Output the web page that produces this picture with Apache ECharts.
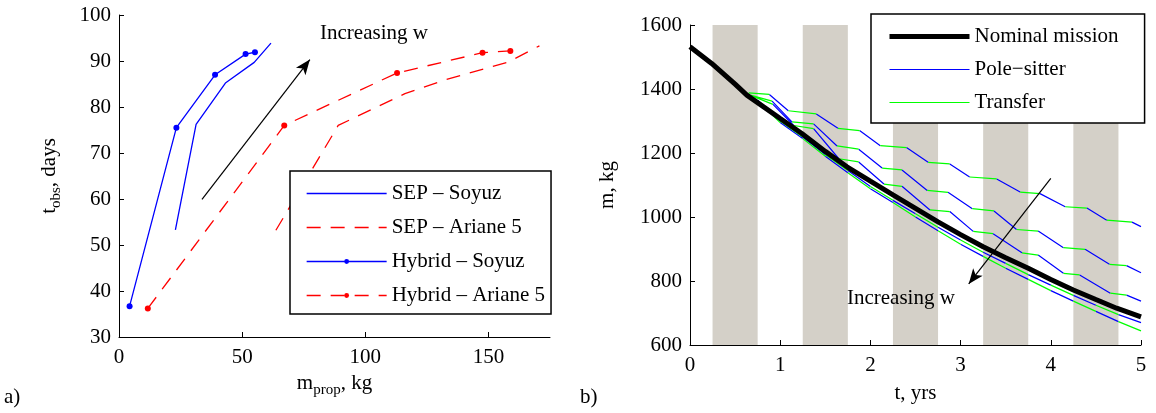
<!DOCTYPE html>
<html>
<head>
<meta charset="utf-8">
<script src="https://cdn.jsdelivr.net/npm/echarts@6/dist/echarts.min.js"></script>
<style>html,body{margin:0;padding:0;background:#fff}#c{width:1156px;height:413px}</style>
</head>
<body>
<div id="c"></div>
<script>
// ---------- Panel a) data ----------
const sepSoyuzX = [22.9, 31.3, 43.2, 54.9, 61.7];
const sepSoyuzY = [53.3, 76.2, 85.2, 89.7, 93.9];
const sepArianeX = [63.7, 89.0, 116.1, 133.0, 158.1, 170.7];
const sepArianeY = [53.2, 76.0, 82.9, 86.0, 89.8, 93.3];
const hybSoyuzX = [4.3, 23.3, 39.0, 51.4, 55.2];
const hybSoyuzY = [36.7, 75.5, 87.0, 91.5, 91.9];
const hybArianeX = [11.7, 67.1, 112.9, 147.6, 158.9];
const hybArianeY = [36.2, 76.0, 87.4, 91.8, 92.2];
const arrowA = [[33.7, 59.9], [77.5, 90.3]];
const textA = [79.6, 96.0];

// ---------- Panel b) data ----------
const nominalT = [0, 0.24, 0.5, 0.63, 1.0, 1.24, 1.5, 1.74, 2.0, 2.25, 2.5, 2.75, 3.0, 3.25, 3.5, 3.75, 4.0, 4.25, 4.5, 4.73, 5.0];
const nominalM = [1532, 1480, 1415, 1381, 1308, 1261, 1205, 1157, 1112, 1069, 1027, 985, 945, 907, 873, 840, 805, 772, 742, 715, 688];

const br1T = [0.65, 0.88, 1.09, 1.40, 1.64, 1.88, 2.11, 2.40, 2.64, 2.88, 3.10, 3.40, 3.66, 3.88, 4.16, 4.40, 4.62, 4.90, 5.0];
const br1M = [1388, 1383, 1332, 1322, 1277, 1270, 1223, 1217, 1171, 1166, 1125, 1119, 1078, 1073, 1032, 1028, 990, 984, 970];
const br2T = [0.67, 0.91, 1.13, 1.37, 1.63, 1.87, 2.13, 2.35, 2.63, 2.86, 3.13, 3.37, 3.62, 3.86, 4.14, 4.38, 4.65, 4.84, 5.0];
const br2M = [1381, 1362, 1297, 1291, 1222, 1212, 1153, 1147, 1083, 1077, 1026, 1019, 961, 956, 904, 899, 852, 848, 826];
const br3T = [0.70, 0.92, 1.15, 1.37, 1.65, 1.87, 2.15, 2.35, 2.66, 2.88, 3.14, 3.36, 3.68, 3.86, 4.14, 4.32, 4.66, 4.84, 5.0];
const br3M = [1377, 1352, 1286, 1276, 1182, 1172, 1103, 1096, 1022, 1017, 955, 948, 888, 881, 824, 819, 762, 756, 737];
const br4T = [0.75, 1.0, 1.25, 1.5, 1.75, 2.0, 2.25, 2.5, 2.75, 3.0, 3.25, 3.5, 3.75, 4.0, 4.25, 4.5, 4.75, 5.0];
const br4M = [1365, 1300, 1250, 1195, 1145, 1095, 1052, 1010, 968, 928, 890, 855, 820, 787, 755, 724, 695, 670];
const br5T = [0.75, 1.0, 1.25, 1.5, 1.75, 2.0, 2.25, 2.5, 2.75, 3.0, 3.25, 3.5, 3.75, 4.0, 4.25, 4.5, 4.75, 5.0];
const br5M = [1362, 1295, 1245, 1190, 1138, 1088, 1045, 1000, 957, 915, 877, 840, 805, 770, 737, 705, 673, 644];
// first segment colour of each branch (segments then alternate)
const branchFirst = ['g', 'g', 'g', 'b', 'g'];
const bandStarts = [0.25, 1.25, 2.25, 3.25, 4.25];
const bandEnds = [0.75, 1.75, 2.75, 3.75, 4.75];
const arrowB = [[4.0, 1121], [3.09, 791]];
const textB = [1.685, 744];

// ---------- helpers ----------
const FONT = 'Liberation Serif';
const FS = 21;
const BLUE = '#0000ff', RED = '#ff0000', GREEN = '#00ff00';
function pairs(xs, ys) { return xs.map((x, i) => [x, ys[i]]); }
const branches = [[br1T, br1M], [br2T, br2M], [br3T, br3M], [br4T, br4M], [br5T, br5M]];
function segData(key) {
  const out = [];
  branches.forEach((b, bi) => {
    const [T, M] = b;
    const first = branchFirst[bi];
    const other = first === 'g' ? 'b' : 'g';
    for (let i = 0; i < T.length - 1; i++) {
      const c = (i % 2 === 0) ? first : other;
      if (c === key) {
        out.push([T[i], M[i]], [T[i + 1], M[i + 1]], ['-', '-']);
      }
    }
  });
  return out;
}
const axisCommon = {
  axisLine: { show: true, lineStyle: { color: '#000', width: 1 } },
  axisTick: { show: true, inside: true, length: 5, lineStyle: { color: '#000' } },
  axisLabel: { color: '#000', fontFamily: FONT, fontSize: FS, formatter: v => String(v) },
  splitLine: { show: false },
  nameTextStyle: { color: '#000', fontFamily: FONT, fontSize: FS }
};
function subRich() {
  return {
    a: { fontFamily: FONT, fontSize: FS, color: '#000', lineHeight: 25, verticalAlign: 'top' },
    s: { fontFamily: FONT, fontSize: 15, color: '#000', lineHeight: 25, verticalAlign: 'bottom' }
  };
}
const textStyleBase = { fontFamily: FONT, fontSize: FS, color: '#000' };
const noDot = { color: 'rgba(0,0,0,0)', borderWidth: 0, borderColor: 'rgba(0,0,0,0)' };

const chart = echarts.init(document.getElementById('c'), null, { renderer: 'canvas' });
const option = {
  animation: false,
  backgroundColor: '#fff',
  grid: [
    { left: 119, top: 15, width: 431, height: 322 },
    { left: 690, top: 25, width: 451, height: 320 }
  ],
  xAxis: [
    Object.assign({}, axisCommon, {
      gridIndex: 0, type: 'value', min: 0, max: 175, interval: 50,
      name: '{a|m}{s|prop}{a|, kg}', nameLocation: 'middle', nameGap: 32,
      nameTextStyle: { rich: subRich() },
      axisLabel: Object.assign({}, axisCommon.axisLabel, { showMaxLabel: false, margin: 10 })
    }),
    Object.assign({}, axisCommon, {
      gridIndex: 1, type: 'value', min: 0, max: 5, interval: 1,
      name: 't, yrs', nameLocation: 'middle', nameGap: 38,
      axisLabel: Object.assign({}, axisCommon.axisLabel, { margin: 10 })
    })
  ],
  yAxis: [
    Object.assign({}, axisCommon, {
      gridIndex: 0, type: 'value', min: 30, max: 100, interval: 10,
      name: '{a|t}{s|obs}{a|, days}', nameLocation: 'middle', nameGap: 55,
      nameTextStyle: { rich: subRich() }
    }),
    Object.assign({}, axisCommon, {
      gridIndex: 1, type: 'value', min: 600, max: 1600, interval: 200,
      name: 'm, kg', nameLocation: 'middle', nameGap: 72
    })
  ],
  legend: [
    {
      left: 290, top: 171, orient: 'vertical',
      itemWidth: 80, itemHeight: 6, itemGap: 13,
      padding: [12, 6, 8, 16],
      borderColor: '#000', borderWidth: 1.5, backgroundColor: '#fff',
      textStyle: textStyleBase,
      data: [
        { name: 'SEP – Soyuz', itemStyle: noDot, lineStyle: { width: 1.3 } },
        { name: 'SEP – Ariane 5', itemStyle: noDot, lineStyle: { width: 1.3 } },
        { name: 'Hybrid – Soyuz', lineStyle: { width: 1.3 } },
        { name: 'Hybrid – Ariane 5', lineStyle: { width: 1.3 } }
      ]
    },
    {
      left: 871, top: 14, orient: 'vertical',
      itemWidth: 80, itemHeight: 6, itemGap: 12,
      padding: [12, 26, 10, 16],
      borderColor: '#000', borderWidth: 1.5, backgroundColor: '#fff',
      textStyle: textStyleBase,
      data: [
        { name: 'Nominal mission', itemStyle: noDot, lineStyle: { width: 5 } },
        { name: 'Pole−sitter', itemStyle: noDot, lineStyle: { width: 1.2 } },
        { name: 'Transfer', itemStyle: noDot, lineStyle: { width: 1.2 } }
      ]
    }
  ],
  series: [
    {
      name: 'SEP – Soyuz', type: 'line', xAxisIndex: 0, yAxisIndex: 0,
      data: pairs(sepSoyuzX, sepSoyuzY), symbol: 'none',
      lineStyle: { color: BLUE, width: 1.3 }, itemStyle: { color: BLUE },
      markLine: {
        silent: true, symbol: ['none', 'arrow'], symbolSize: [9, 15],
        lineStyle: { color: '#000', width: 1.2, type: 'solid' },
        label: { show: false },
        data: [[{ coord: arrowA[0] }, { coord: arrowA[1] }]]
      },
      markPoint: {
        silent: true, symbol: 'circle', symbolSize: 0,
        label: { show: true, position: 'right', distance: 5, formatter: 'Increasing w', fontFamily: FONT, fontSize: FS, color: '#000' },
        itemStyle: { color: 'rgba(0,0,0,0)' },
        data: [{ coord: textA }]
      }
    },
    {
      name: 'SEP – Ariane 5', type: 'line', xAxisIndex: 0, yAxisIndex: 0,
      data: pairs(sepArianeX, sepArianeY), symbol: 'none',
      lineStyle: { color: RED, width: 1.3, type: [14, 10] }, itemStyle: { color: RED }
    },
    {
      name: 'Hybrid – Soyuz', type: 'line', xAxisIndex: 0, yAxisIndex: 0,
      data: pairs(hybSoyuzX, hybSoyuzY), symbol: 'circle', symbolSize: 6, showSymbol: true,
      lineStyle: { color: BLUE, width: 1.3 }, itemStyle: { color: BLUE }
    },
    {
      name: 'Hybrid – Ariane 5', type: 'line', xAxisIndex: 0, yAxisIndex: 0,
      data: pairs(hybArianeX, hybArianeY), symbol: 'circle', symbolSize: 6, showSymbol: true,
      lineStyle: { color: RED, width: 1.3, type: [14, 10] }, itemStyle: { color: RED }
    },
    {
      name: 'bands', type: 'line', xAxisIndex: 1, yAxisIndex: 1, data: [], z: 0,
      markArea: {
        silent: true,
        itemStyle: { color: '#d4d0c8', opacity: 1 },
        data: bandStarts.map((s, i) => [{ xAxis: s }, { xAxis: bandEnds[i] }])
      }
    },
    {
      name: 'Pole−sitter', type: 'line', xAxisIndex: 1, yAxisIndex: 1,
      data: segData('b'), symbol: 'none', connectNulls: false, z: 3,
      lineStyle: { color: BLUE, width: 1.2 }, itemStyle: { color: BLUE }
    },
    {
      name: 'Transfer', type: 'line', xAxisIndex: 1, yAxisIndex: 1,
      data: segData('g'), symbol: 'none', connectNulls: false, z: 3,
      lineStyle: { color: GREEN, width: 1.2 }, itemStyle: { color: GREEN }
    },
    {
      name: 'Nominal mission', type: 'line', xAxisIndex: 1, yAxisIndex: 1,
      data: pairs(nominalT, nominalM), symbol: 'none', z: 4,
      lineStyle: { color: '#000', width: 5 }, itemStyle: { color: '#000' },
      markLine: {
        silent: true, symbol: ['none', 'arrow'], symbolSize: [9, 15],
        lineStyle: { color: '#000', width: 1.2, type: 'solid' },
        label: { show: false },
        data: [[{ coord: arrowB[0] }, { coord: arrowB[1] }]]
      },
      markPoint: {
        silent: true, symbol: 'circle', symbolSize: 0,
        label: { show: true, position: 'right', distance: 5, formatter: 'Increasing w', fontFamily: FONT, fontSize: FS, color: '#000' },
        itemStyle: { color: 'rgba(0,0,0,0)' },
        data: [{ coord: textB }]
      }
    }
  ],
  graphic: [
    { type: 'text', left: 4, top: 387, style: { text: 'a)', font: FS + 'px "' + FONT + '"', fill: '#000' } },
    { type: 'text', left: 580, top: 387, style: { text: 'b)', font: FS + 'px "' + FONT + '"', fill: '#000' } }
  ]
};
chart.setOption(option);
</script>
</body>
</html>
